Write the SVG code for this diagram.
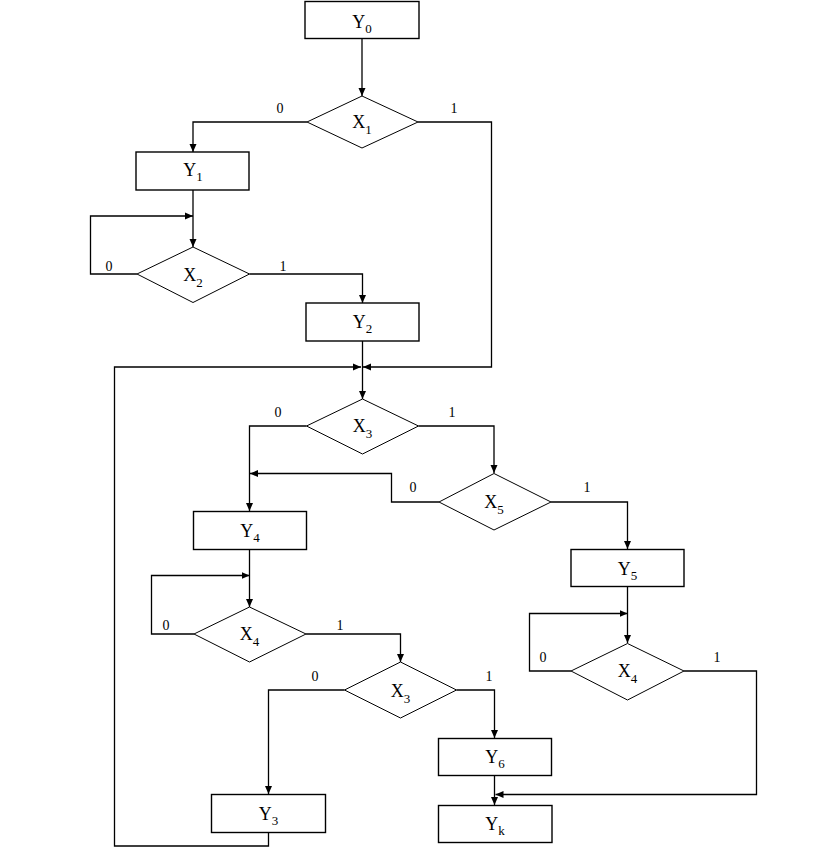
<svg xmlns="http://www.w3.org/2000/svg" width="819" height="852" viewBox="0 0 819 852">
<style>
.box{fill:#fff;stroke:#000;stroke-width:1.4}
.dia{fill:#fff;stroke:#000;stroke-width:1}
.c{fill:none;stroke:#000;stroke-width:1.3}
.t{font-family:"Liberation Serif","Times New Roman",serif;font-size:18px;text-anchor:middle;fill:#000}
.s{font-size:13px}
.l{font-family:"Liberation Serif","Times New Roman",serif;font-size:14px;text-anchor:middle;fill:#000}
</style>
<defs>
<marker id="a" markerWidth="8" markerHeight="8" refX="8" refY="4" orient="auto" markerUnits="userSpaceOnUse"><path d="M0,0.5 L8,4 L0,7.5 z" fill="#000"/></marker>
</defs>
<rect width="819" height="852" fill="#fff"/>
<g id="connectors">
<path class="c" d="M362,38 V96" marker-end="url(#a)"/>
<path class="c" d="M307,122 H193 V152" marker-end="url(#a)"/>
<path class="c" d="M418,122 H491.5 V367 H363" marker-end="url(#a)"/>
<path class="c" d="M193,190 V247" marker-end="url(#a)"/>
<path class="c" d="M137,274 H90.5 V216 H193" marker-end="url(#a)"/>
<path class="c" d="M249.5,274 H362.5 V303" marker-end="url(#a)"/>
<path class="c" d="M362.5,341 V399" marker-end="url(#a)"/>
<path class="c" d="M268.5,832 V846 H114.5 V367 H361" marker-end="url(#a)"/>
<path class="c" d="M306.5,426 H249.5 V511" marker-end="url(#a)"/>
<path class="c" d="M418.5,426 H494 V473" marker-end="url(#a)"/>
<path class="c" d="M439,502 H391.5 V473.5 H250" marker-end="url(#a)"/>
<path class="c" d="M551,502 H627.5 V549" marker-end="url(#a)"/>
<path class="c" d="M249.5,549 V607" marker-end="url(#a)"/>
<path class="c" d="M194,634 H151.5 V575.5 H249.5" marker-end="url(#a)"/>
<path class="c" d="M306,634 H400.5 V662" marker-end="url(#a)"/>
<path class="c" d="M344.5,690 H268.5 V794" marker-end="url(#a)"/>
<path class="c" d="M456.5,690 H494.5 V738" marker-end="url(#a)"/>
<path class="c" d="M494.5,775 V805" marker-end="url(#a)"/>
<path class="c" d="M627.5,587 V643" marker-end="url(#a)"/>
<path class="c" d="M571,671 H529.5 V613.5 H627.5" marker-end="url(#a)"/>
<path class="c" d="M684,671 H756.5 V794.5 H495.5" marker-end="url(#a)"/>
</g>
<g id="Y0"><rect class="box" x="305" y="1.5" width="114" height="37"/><text class="t" x="362" y="27.5">Y<tspan class="s" dy="5">0</tspan></text></g>
<g id="X1"><polygon class="dia" points="362,96 418,122 362,148 307,122"/><text class="t" x="362" y="128">X<tspan class="s" dy="6">1</tspan></text></g>
<g id="Y1"><rect class="box" x="136" y="152" width="113" height="38"/><text class="t" x="193" y="176">Y<tspan class="s" dy="5">1</tspan></text></g>
<g id="X2"><polygon class="dia" points="193,247 249.5,274 193,302.5 137,274"/><text class="t" x="193" y="281">X<tspan class="s" dy="6">2</tspan></text></g>
<g id="Y2"><rect class="box" x="306" y="303" width="113" height="38"/><text class="t" x="362.5" y="327.5">Y<tspan class="s" dy="5">2</tspan></text></g>
<g id="X3a"><polygon class="dia" points="362.5,399 418.5,426 362.5,454 306.5,426"/><text class="t" x="362.5" y="431.5">X<tspan class="s" dy="6">3</tspan></text></g>
<g id="X5"><polygon class="dia" points="494,473.5 551,502 494,530 439,502"/><text class="t" x="494" y="507.5">X<tspan class="s" dy="6">5</tspan></text></g>
<g id="Y4"><rect class="box" x="193.5" y="511.5" width="113" height="38"/><text class="t" x="250" y="536.5">Y<tspan class="s" dy="5">4</tspan></text></g>
<g id="Y5"><rect class="box" x="571" y="549.5" width="113" height="37"/><text class="t" x="627.5" y="575">Y<tspan class="s" dy="5">5</tspan></text></g>
<g id="X4a"><polygon class="dia" points="249.5,607 306,634 249.5,662 194,634"/><text class="t" x="249.5" y="640">X<tspan class="s" dy="6">4</tspan></text></g>
<g id="X4b"><polygon class="dia" points="627.5,643.5 684,671 627.5,700 571,671"/><text class="t" x="627.5" y="677">X<tspan class="s" dy="6">4</tspan></text></g>
<g id="X3b"><polygon class="dia" points="400.5,662 456.5,690 400.5,718 344.5,690"/><text class="t" x="400.5" y="696.5">X<tspan class="s" dy="6">3</tspan></text></g>
<g id="Y6"><rect class="box" x="438.5" y="738.5" width="113" height="37"/><text class="t" x="495" y="762.5">Y<tspan class="s" dy="5">6</tspan></text></g>
<g id="Yk"><rect class="box" x="438.5" y="805.5" width="113.5" height="37"/><text class="t" x="495" y="830">Y<tspan class="s" dy="5">k</tspan></text></g>
<g id="Y3"><rect class="box" x="211.5" y="794.5" width="114" height="38"/><text class="t" x="268.5" y="820">Y<tspan class="s" dy="5">3</tspan></text></g>
<g id="labels">
<text class="l" x="280" y="113">0</text><text class="l" x="454" y="113">1</text>
<text class="l" x="109" y="270.5">0</text><text class="l" x="283" y="270.5">1</text>
<text class="l" x="278" y="416.5">0</text><text class="l" x="452" y="416.5">1</text>
<text class="l" x="413" y="491.5">0</text><text class="l" x="587" y="491.5">1</text>
<text class="l" x="166" y="630">0</text><text class="l" x="340" y="630">1</text>
<text class="l" x="315" y="680.5">0</text><text class="l" x="489" y="680.5">1</text>
<text class="l" x="543" y="661.5">0</text><text class="l" x="717" y="661.5">1</text>
</g>
</svg>
